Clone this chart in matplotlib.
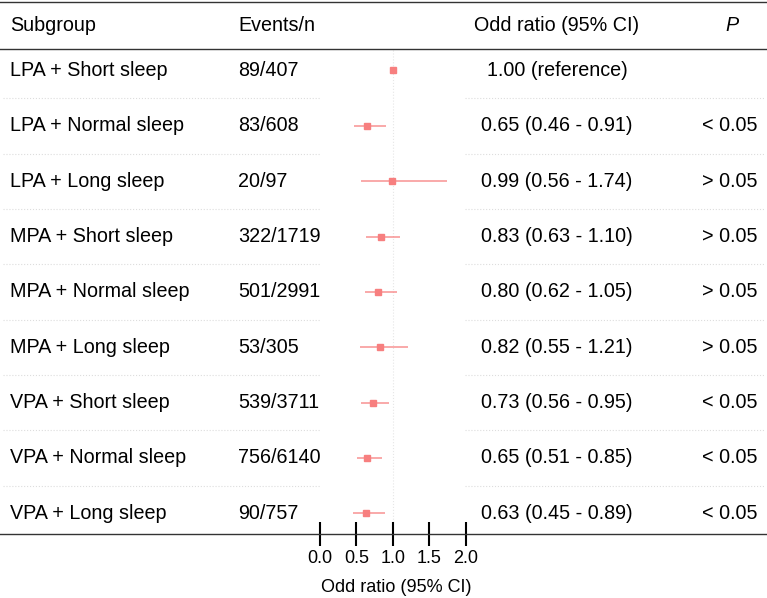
import matplotlib.pyplot as plt
import matplotlib.transforms as mtransforms
import numpy as np

plt.rcParams['font.family'] = ['Liberation Sans', 'DejaVu Sans']

# data
subgroups = ['LPA + Short sleep', 'LPA + Normal sleep', 'LPA + Long sleep',
             'MPA + Short sleep', 'MPA + Normal sleep', 'MPA + Long sleep',
             'VPA + Short sleep', 'VPA + Normal sleep', 'VPA + Long sleep']
events = ['89/407', '83/608', '20/97', '322/1719', '501/2991', '53/305',
          '539/3711', '756/6140', '90/757']
odds = [1.00, 0.65, 0.99, 0.83, 0.80, 0.82, 0.73, 0.65, 0.63]
lower = [np.nan, 0.46, 0.56, 0.63, 0.62, 0.55, 0.56, 0.51, 0.45]
upper = [np.nan, 0.91, 1.74, 1.10, 1.05, 1.21, 0.95, 0.85, 0.89]
ci_text = ['1.00 (reference)', '0.65 (0.46 - 0.91)', '0.99 (0.56 - 1.74)',
           '0.83 (0.63 - 1.10)', '0.80 (0.62 - 1.05)', '0.82 (0.55 - 1.21)',
           '0.73 (0.56 - 0.95)', '0.65 (0.51 - 0.85)', '0.63 (0.45 - 0.89)']
pvals = ['', '< 0.05', '> 0.05', '> 0.05', '> 0.05', '> 0.05',
         '< 0.05', '< 0.05', '< 0.05']
xticks = [0.0, 0.5, 1.0, 1.5, 2.0]

W, H = 767, 598
fig = plt.figure(figsize=(W/100, H/100), dpi=100)
ax = fig.add_axes([0, 0, 1, 1])

# pixel layout helpers
x0px, unit = 320, 73.0          # OR=0 at 320 px, 73 px per unit
row0, step = 70.5, 55.35         # first row centre and row spacing (px)
def ypx(p):
    return (p - row0) / step
ax.set_xlim(-x0px/unit, (W - x0px)/unit)
ax.set_ylim(ypx(H), ypx(0))

col = '#F77F7F'
rows = np.arange(len(subgroups))
for i in rows:
    if not np.isnan(lower[i]):
        ax.plot([lower[i], upper[i]], [i, i], color=col, lw=1.1, alpha=0.85,
                solid_capstyle='butt')
ax.plot(odds, rows, ls='none', marker='s', ms=4.5, color=col)

# reference line
ax.plot([1, 1], [ypx(50), ypx(533)], color='#e6e6e6', lw=0.8, ls=':', zorder=0)

# horizontal rules
for p in (2, 49):
    ax.axhline(ypx(p), color='#333333', lw=1.0)
fx = mtransforms.blended_transform_factory(fig.transFigure, ax.transData)
for i in rows[:-1]:
    ax.plot([3/W, 320/W], [i+0.5, i+0.5], transform=fx, color='#dddddd', lw=0.8, ls=':')
    ax.plot([465/W, 765/W], [i+0.5, i+0.5], transform=fx, color='#dddddd', lw=0.8, ls=':')

# x axis on the bottom rule
for s in ('top', 'right', 'left'):
    ax.spines[s].set_visible(False)
ax.spines['bottom'].set_position(('data', ypx(534)))
ax.spines['bottom'].set_color('#333333')
ax.spines['bottom'].set_linewidth(1.0)
ax.set_xticks(xticks)
ax.set_xticklabels(['%.1f' % t for t in xticks])
ax.tick_params(axis='x', direction='inout', length=17, width=1.5, color='black',
               labelsize=13, pad=3)
ax.set_yticks([])
ax.text(1.04, ypx(587), 'Odd ratio (95% CI)', ha='center', va='center', fontsize=13)

# table text
fs = 14.2
hy = ypx(26)
ax.text(10/W, hy, 'Subgroup', transform=fx, ha='left', va='center', fontsize=fs)
ax.text(238/W, hy, 'Events/n', transform=fx, ha='left', va='center', fontsize=fs)
ax.text(557/W, hy, 'Odd ratio (95% CI)', transform=fx, ha='center', va='center', fontsize=fs)
ax.text(732/W, hy, 'P', transform=fx, ha='center', va='center', fontsize=fs, style='italic')
for i in rows:
    ax.text(10/W, i, subgroups[i], transform=fx, ha='left', va='center', fontsize=fs)
    ax.text(238/W, i, events[i], transform=fx, ha='left', va='center', fontsize=fs)
    ax.text(557/W, i, ci_text[i], transform=fx, ha='center', va='center', fontsize=fs)
    ax.text(730/W, i, pvals[i], transform=fx, ha='center', va='center', fontsize=fs)

fig.savefig('out.png', dpi=100)
